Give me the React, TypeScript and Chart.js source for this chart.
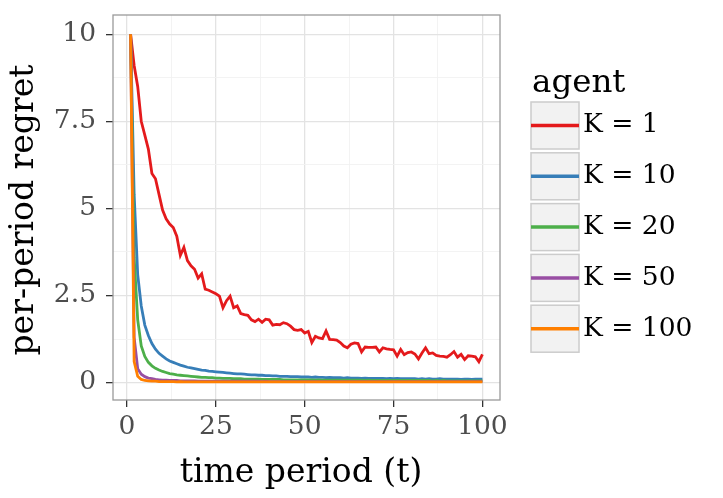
import { useEffect, useRef } from "react"
import { Chart, registerables } from "chart.js"

Chart.register(...registerables)

const FONT = '"DejaVu Serif", "Liberation Serif", serif'

const periods = Array.from({ length: 100 }, (_, i) => i + 1)

const agents = ["K = 1", "K = 10", "K = 20", "K = 50", "K = 100"]
const agentColors = ["#e41a1c", "#377eb8", "#4daf4a", "#984ea3", "#ff7f00"]

const xTicks = [0, 25, 50, 75, 100]
const xMinorTicks = [12.5, 37.5, 62.5, 87.5]
const yTicks = [0, 2.5, 5, 7.5, 10]
const yMinorTicks = [1.25, 3.75, 6.25, 8.75]
const yTickLabels = ["0", "2.5", "5", "7.5", "10"]

const xTitle = "time period (t)"
const yTitle = "per-period regret"
const legendTitle = "agent"

// K = 1
const regretK1 = [
  10, 9.1, 8.5, 7.5, 7.1, 6.7, 6.0, 5.85, 5.4, 4.95,
  4.7, 4.55, 4.45, 4.2, 3.65, 3.88, 3.5, 3.35, 3.25, 3.0,
  3.12, 2.68, 2.65, 2.6, 2.55, 2.48, 2.15, 2.35, 2.48, 2.15,
  2.2, 1.98, 1.95, 1.93, 1.8, 1.75, 1.82, 1.73, 1.82, 1.8,
  1.65, 1.67, 1.66, 1.72, 1.69, 1.62, 1.52, 1.5, 1.52, 1.42,
  1.47, 1.15, 1.33, 1.28, 1.26, 1.48, 1.24, 1.23, 1.22, 1.15,
  1.05, 1.0, 1.1, 1.14, 1.12, 0.88, 1.02, 1.01, 1.01, 1.02,
  0.88, 1.0, 0.97, 0.95, 0.94, 0.76, 0.95, 0.8, 0.86, 0.88,
  0.82, 0.68, 0.85, 1.0, 0.83, 0.85, 0.78, 0.76, 0.75, 0.73,
  0.8, 0.89, 0.73, 0.81, 0.66, 0.77, 0.76, 0.74, 0.6, 0.81,
]

// K = 10
const regretK10 = [
  10, 5.4, 3.1, 2.2, 1.65, 1.35, 1.12, 0.96, 0.84, 0.76,
  0.68, 0.62, 0.58, 0.54, 0.5, 0.47, 0.44, 0.42, 0.4, 0.38,
  0.36, 0.35, 0.33, 0.32, 0.31, 0.3, 0.29, 0.28, 0.27, 0.26,
  0.25, 0.25, 0.24, 0.23, 0.22, 0.22, 0.21, 0.21, 0.2, 0.2,
  0.19, 0.19, 0.18, 0.18, 0.18, 0.17, 0.17, 0.17, 0.16, 0.16,
  0.16, 0.15, 0.16, 0.15, 0.15, 0.14, 0.15, 0.14, 0.14, 0.14,
  0.13, 0.14, 0.13, 0.13, 0.13, 0.12, 0.13, 0.12, 0.12, 0.12,
  0.12, 0.12, 0.11, 0.12, 0.11, 0.12, 0.11, 0.11, 0.11, 0.11,
  0.11, 0.1, 0.11, 0.1, 0.11, 0.1, 0.1, 0.11, 0.1, 0.1,
  0.1, 0.1, 0.1, 0.09, 0.1, 0.1, 0.09, 0.1, 0.1, 0.1,
]

// K = 20
const regretK20 = [
  10, 3.6, 1.8, 1.05, 0.75, 0.58, 0.48, 0.41, 0.36, 0.32,
  0.29, 0.26, 0.24, 0.22, 0.21, 0.2, 0.19, 0.18, 0.17, 0.16,
  0.15, 0.15, 0.14, 0.14, 0.13, 0.13, 0.12, 0.12, 0.12, 0.11,
  0.11, 0.11, 0.1, 0.1, 0.1, 0.1, 0.1, 0.09, 0.09, 0.09,
  0.09, 0.09, 0.09, 0.08, 0.08, 0.08, 0.08, 0.08, 0.08, 0.08,
  0.08, 0.08, 0.07, 0.08, 0.07, 0.07, 0.07, 0.07, 0.07, 0.07,
  0.07, 0.07, 0.07, 0.07, 0.07, 0.07, 0.06, 0.07, 0.06, 0.06,
  0.06, 0.06, 0.06, 0.06, 0.06, 0.06, 0.06, 0.06, 0.06, 0.06,
  0.06, 0.06, 0.06, 0.06, 0.06, 0.05, 0.06, 0.05, 0.06, 0.05,
  0.05, 0.05, 0.05, 0.05, 0.05, 0.05, 0.05, 0.05, 0.05, 0.05,
]

// K = 50
const regretK50 = [
  10, 1.3, 0.4, 0.24, 0.17, 0.13, 0.11, 0.09, 0.08, 0.07,
  0.07, 0.06, 0.06, 0.06, 0.05, 0.05, 0.05, 0.05, 0.05, 0.04,
  0.04, 0.04, 0.04, 0.04, 0.04, 0.04, 0.04, 0.04, 0.04, 0.04,
  0.04, 0.04, 0.04, 0.04, 0.04, 0.04, 0.04, 0.03, 0.04, 0.03,
  0.03, 0.03, 0.03, 0.03, 0.03, 0.03, 0.03, 0.03, 0.03, 0.03,
  0.03, 0.03, 0.03, 0.03, 0.03, 0.03, 0.03, 0.03, 0.03, 0.03,
  0.03, 0.03, 0.03, 0.03, 0.03, 0.03, 0.03, 0.03, 0.03, 0.03,
  0.03, 0.03, 0.03, 0.03, 0.03, 0.03, 0.03, 0.03, 0.03, 0.03,
  0.03, 0.03, 0.03, 0.03, 0.03, 0.03, 0.03, 0.03, 0.03, 0.03,
  0.03, 0.03, 0.03, 0.03, 0.03, 0.03, 0.03, 0.03, 0.03, 0.03,
]

// K = 100
const regretK100 = [
  10, 0.6, 0.18, 0.09, 0.06, 0.05, 0.04, 0.04, 0.03, 0.03,
  0.03, 0.03, 0.03, 0.02, 0.03, 0.02, 0.02, 0.02, 0.02, 0.02,
  0.02, 0.02, 0.02, 0.02, 0.02, 0.02, 0.02, 0.02, 0.02, 0.02,
  0.02, 0.02, 0.02, 0.02, 0.02, 0.02, 0.02, 0.02, 0.02, 0.02,
  0.02, 0.02, 0.02, 0.02, 0.02, 0.02, 0.02, 0.02, 0.02, 0.02,
  0.02, 0.02, 0.02, 0.02, 0.02, 0.02, 0.02, 0.02, 0.02, 0.02,
  0.02, 0.02, 0.02, 0.02, 0.02, 0.02, 0.02, 0.02, 0.02, 0.02,
  0.02, 0.02, 0.02, 0.02, 0.02, 0.02, 0.02, 0.02, 0.02, 0.02,
  0.02, 0.02, 0.02, 0.02, 0.02, 0.02, 0.02, 0.02, 0.02, 0.02,
  0.02, 0.02, 0.02, 0.02, 0.02, 0.02, 0.02, 0.02, 0.02, 0.02,
]

const regretSeries = [regretK1, regretK10, regretK20, regretK50, regretK100]

// ggplot-ish grid: major lines darker than the minor ones
function gridStyle(major: number[]) {
  const isMajor = (ctx: any) => !!ctx.tick && major.includes(ctx.tick.value)
  return {
    color: (ctx: any) => (isMajor(ctx) ? "#e3e3e3" : "#f2f2f2"),
    lineWidth: (ctx: any) => (isMajor(ctx) ? 1.3 : 0.9),
    tickColor: (ctx: any) => (isMajor(ctx) ? "#333333" : "rgba(0,0,0,0)"),
    tickLength: 7,
    tickWidth: 1.3,
  }
}

// panel border on top of the lines, plus the two axis titles
const panelDecor = {
  id: "panelDecor",
  afterDatasetsDraw(chart: any) {
    const { ctx, chartArea } = chart
    ctx.save()
    ctx.strokeStyle = "#9a9a9a"
    ctx.lineWidth = 1.3
    ctx.strokeRect(chartArea.left, chartArea.top, chartArea.right - chartArea.left, chartArea.bottom - chartArea.top)

    ctx.fillStyle = "#000"
    ctx.font = `33px ${FONT}`
    ctx.textAlign = "center"
    ctx.textBaseline = "alphabetic"
    ctx.fillText(xTitle, 301, 481.5)

    ctx.translate(33.3, 210)
    ctx.rotate(-Math.PI / 2)
    ctx.fillText(yTitle, 0, 0)
    ctx.restore()
  },
}

// legend with grey key boxes on the right
const keyLegend = {
  id: "keyLegend",
  afterDraw(chart: any) {
    const { ctx } = chart
    ctx.save()
    ctx.fillStyle = "#000"
    ctx.textAlign = "left"
    ctx.textBaseline = "alphabetic"
    ctx.font = `32.5px ${FONT}`
    ctx.fillText(legendTitle, 532, 92)

    chart.data.datasets.forEach((ds: any, i: number) => {
      const top = 102 + i * 50.8
      const mid = top + 23.5
      ctx.fillStyle = "#f2f2f2"
      ctx.fillRect(531, top, 48, 47)
      ctx.strokeStyle = "#cccccc"
      ctx.lineWidth = 1.5
      ctx.strokeRect(531, top, 48, 47)
      ctx.strokeStyle = ds.borderColor
      ctx.lineWidth = 3.5
      ctx.beginPath()
      ctx.moveTo(531, mid)
      ctx.lineTo(579, mid)
      ctx.stroke()
      ctx.fillStyle = "#000"
      ctx.font = `26.5px ${FONT}`
      ctx.textBaseline = "middle"
      ctx.fillText(ds.label, 583, mid)
    })
    ctx.restore()
  },
}

function RegretChart() {
  const canvasRef = useRef<HTMLCanvasElement>(null)
  const chartRef = useRef<Chart | null>(null)

  useEffect(() => {
    if (!canvasRef.current) return

    chartRef.current = new Chart(canvasRef.current, {
      type: "line",
      data: {
        datasets: agents.map((label, i) => ({
          label,
          data: periods.map((t, j) => ({ x: t, y: regretSeries[i][j] })),
          borderColor: agentColors[i],
          backgroundColor: agentColors[i],
          borderWidth: 2.8,
          pointRadius: 0,
          tension: 0,
          order: agents.length - i,
        })),
      },
      options: {
        responsive: true,
        maintainAspectRatio: false,
        animation: false,
        events: [],
        layout: { padding: { top: 15, right: 223, left: 0, bottom: 0 } },
        scales: {
          x: {
            type: "linear",
            min: -3.95,
            max: 104.95,
            afterFit: (scale: any) => {
              scale.height = 98
              scale.paddingLeft = 0
              scale.paddingRight = 0
            },
            afterBuildTicks: (scale: any) => {
              scale.ticks = [...xTicks, ...xMinorTicks].sort((a, b) => a - b).map((value) => ({ value }))
            },
            border: { display: false },
            grid: gridStyle(xTicks),
            ticks: {
              autoSkip: false,
              maxRotation: 0,
              padding: 4.5,
              color: "#4d4d4d",
              font: { family: FONT, size: 26.5 },
              callback: (value: any) => (xTicks.includes(value) ? String(value) : ""),
            },
          },
          y: {
            type: "linear",
            min: -0.5,
            max: 10.55,
            afterFit: (scale: any) => {
              scale.width = 113
              scale.paddingTop = 0
              scale.paddingBottom = 0
            },
            afterBuildTicks: (scale: any) => {
              scale.ticks = [...yTicks, ...yMinorTicks].sort((a, b) => a - b).map((value) => ({ value }))
            },
            border: { display: false },
            grid: gridStyle(yTicks),
            ticks: {
              autoSkip: false,
              padding: 10,
              color: "#4d4d4d",
              font: { family: FONT, size: 26.5 },
              callback: (value: any) => {
                const k = yTicks.indexOf(value)
                return k >= 0 ? yTickLabels[k] : ""
              },
            },
          },
        },
        plugins: {
          legend: { display: false },
          tooltip: { enabled: false },
        },
      },
      plugins: [panelDecor, keyLegend],
    })

    return () => {
      chartRef.current?.destroy()
    }
  }, [])

  return (
    <div style={{ position: "fixed", left: 0, top: 0, width: 723, height: 498, background: "#fff" }}>
      <canvas ref={canvasRef} />
    </div>
  )
}

export default function App() {
  return <RegretChart />
}
